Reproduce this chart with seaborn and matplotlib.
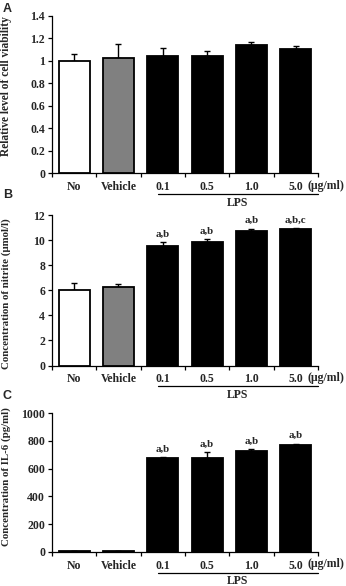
import matplotlib
matplotlib.use("Agg")
import matplotlib.pyplot as plt
import seaborn as sns
import pandas as pd
import numpy as np

categories = ["No", "Vehicle", "0.1", "0.5", "1.0", "5.0"]
bar_colors = ["white", "#808080", "black", "black", "black", "black"]

viab_mean = [1.00, 1.025, 1.04, 1.04, 1.14, 1.105]
viab_err = [0.06, 0.125, 0.07, 0.05, 0.025, 0.022]

nitrite_mean = [6.0, 6.25, 9.5, 9.88, 10.76, 10.92]
nitrite_err = [0.55, 0.22, 0.32, 0.2, 0.16, 0.06]
nitrite_sig = ["", "", "a,b", "a,b", "a,b", "a,b,c"]

il6_mean = [5, 5, 677, 679, 729, 768]
il6_err = [0, 0, 3, 41, 10, 12]
il6_sig = ["", "", "a,b", "a,b", "a,b", "a,b"]

panels = [
    dict(letter="A", mean=viab_mean, err=viab_err, sig=None,
         ylabel="Relative level of cell viability", ylab_fs=8.3,
         ylim=(0, 1.4), yticks=[0, 0.2, 0.4, 0.6, 0.8, 1, 1.2, 1.4],
         yticklabels=["0", "0.2", "0.4", "0.6", "0.8", "1", "1.2", "1.4"],
         box=(52, 15.7, 318, 173), ylab_y=0.55, ylab_x=12, letter_xy=(3, 9)),
    dict(letter="B", mean=nitrite_mean, err=nitrite_err, sig=nitrite_sig,
         ylabel="Concentration of nitrite (\u03bcmol/l)", ylab_fs=7.8,
         ylim=(0, 12), yticks=[0, 2, 4, 6, 8, 10, 12],
         yticklabels=["0", "2", "4", "6", "8", "10", "12"],
         box=(52, 215, 318, 365.5), ylab_y=0.48, ylab_x=11.5, letter_xy=(3, 195)),
    dict(letter="C", mean=il6_mean, err=il6_err, sig=il6_sig,
         ylabel="Concentration of IL-6 (pg/ml)", ylab_fs=7.8,
         ylim=(0, 1000), yticks=[0, 200, 400, 600, 800, 1000],
         yticklabels=["0", "200", "400", "600", "800", "1000"],
         box=(52, 413, 318, 552), ylab_y=0.54, ylab_x=11.5, letter_xy=(3, 396)),
]

sns.set_theme(style="white")
plt.rcParams["font.family"] = ["Liberation Serif", "DejaVu Serif"]
plt.rcParams["font.weight"] = "bold"

W, H = 346, 586
fig = plt.figure(figsize=(W / 100, H / 100), dpi=100)
fig.patch.set_facecolor("white")

for p in panels:
    x0, y0, x1, y1 = p["box"]
    ax = fig.add_axes([x0 / W, 1 - y1 / H, (x1 - x0) / W, (y1 - y0) / H])
    ax_h = y1 - y0
    df = pd.DataFrame({"cat": categories, "val": p["mean"]})
    sns.barplot(data=df, x="cat", y="val", hue="cat", palette=bar_colors,
                legend=False, saturation=1, width=0.7, edgecolor="black",
                linewidth=1.3, errorbar=None, ax=ax, zorder=3)
    xs = np.arange(len(categories))
    err = np.array(p["err"])
    ax.errorbar(xs, p["mean"], yerr=[np.zeros_like(err), err], fmt="none",
                ecolor="black", elinewidth=1.0, capsize=2.5, capthick=1.0,
                zorder=2)
    if p["sig"]:
        for xi, m, e, s in zip(xs, p["mean"], err, p["sig"]):
            if s:
                ax.annotate(s, (xi, m + e), xytext=(0, 2.5),
                            textcoords="offset points", ha="center",
                            va="bottom", fontsize=7.8, fontweight="bold")
    ax.set_xlim(-0.5, 5.5)
    ax.set_ylim(*p["ylim"])
    ax.set_yticks(p["yticks"])
    ax.set_yticklabels(p["yticklabels"], fontsize=8.5, fontweight="bold")
    ax.set_xticks(xs)
    ax.set_xticklabels(categories, fontsize=8.5, fontweight="bold")
    ax.set_xticks(np.arange(-0.5, 6.0, 1.0), minor=True)
    ax.tick_params(axis="x", which="major", length=0, pad=5.5)
    ax.tick_params(axis="x", which="minor", length=3, width=0.9,
                   direction="out", color="black", bottom=True)
    ax.tick_params(axis="y", which="major", length=3, width=0.9,
                   direction="out", color="black", left=True, pad=2)
    for s in ["top", "right"]:
        ax.spines[s].set_visible(False)
    for s in ["left", "bottom"]:
        ax.spines[s].set_color("black")
        ax.spines[s].set_linewidth(0.9)
    ax.set_xlabel("")
    ax.set_ylabel(p["ylabel"], fontsize=p["ylab_fs"], fontweight="bold")
    ax.yaxis.set_label_coords((p["ylab_x"] - x0) / (x1 - x0), p["ylab_y"])
    # unit text after last tick label
    ax.text(5.27, -12.5 / ax_h, "(\u03bcg/ml)", transform=ax.get_xaxis_transform(),
            ha="left", va="center", fontsize=8.5, fontweight="bold")
    # LPS bracket
    ly = -20.5 / ax_h
    ax.plot([1.89, 5.5], [ly, ly], color="black", lw=0.9,
            transform=ax.get_xaxis_transform(), clip_on=False)
    ax.text((1.89 + 5.5) / 2, -29.5 / ax_h, "LPS", transform=ax.get_xaxis_transform(),
            ha="center", va="center", fontsize=8.5, fontweight="bold")
    lx, lyy = p["letter_xy"]
    fig.text(lx / W, 1 - lyy / H, p["letter"], ha="left", va="center",
             fontsize=9, fontweight="bold", family="Liberation Sans")

fig.savefig("out.png", dpi=100, facecolor="white")
